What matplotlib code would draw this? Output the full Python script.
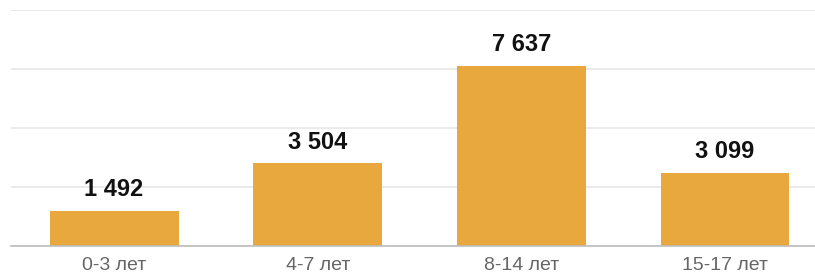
import matplotlib
matplotlib.use("Agg")
import matplotlib.pyplot as plt

# age groups and number of children
categories = ["0-3 лет", "4-7 лет", "8-14 лет", "15-17 лет"]
values = [1492, 3504, 7637, 3099]
grid_ticks = [0, 2500, 5000, 7500, 10000]

bar_color = "#E9A83D"

plt.rcParams["font.family"] = ["Liberation Sans", "DejaVu Sans"]

fig = plt.figure(figsize=(8.15, 2.76), dpi=100)
ax = fig.add_axes([11 / 815, 30 / 276, 804 / 815, 236 / 276])

x = range(len(categories))
bars = ax.bar(x, values, width=0.633, color=bar_color, zorder=2)

# value labels with a space as thousands separator
for xi, v in zip(x, values):
    label = f"{v:,}".replace(",", " ")
    ax.annotate(label, (xi, v), xytext=(0, 7), textcoords="offset points",
                ha="center", va="bottom", fontsize=17, fontweight="bold",
                color="#111111")

ax.set_xlim(-0.506, 3.442)
ax.set_ylim(0, 10000)
ax.set_yticks(grid_ticks)
ax.yaxis.grid(True, color="#e6e6e6", linewidth=1.2, zorder=0)
ax.set_yticklabels([])
ax.tick_params(axis="y", length=0)

ax.set_xticks(list(x))
ax.set_xticklabels(categories, fontsize=14, color="#666666")
ax.tick_params(axis="x", length=0, pad=8)

for side in ["top", "right", "left"]:
    ax.spines[side].set_visible(False)
ax.spines["bottom"].set_color("#bdbdbd")
ax.spines["bottom"].set_linewidth(1.2)
ax.spines["bottom"].set_zorder(3)

fig.savefig("out.png", dpi=100)
